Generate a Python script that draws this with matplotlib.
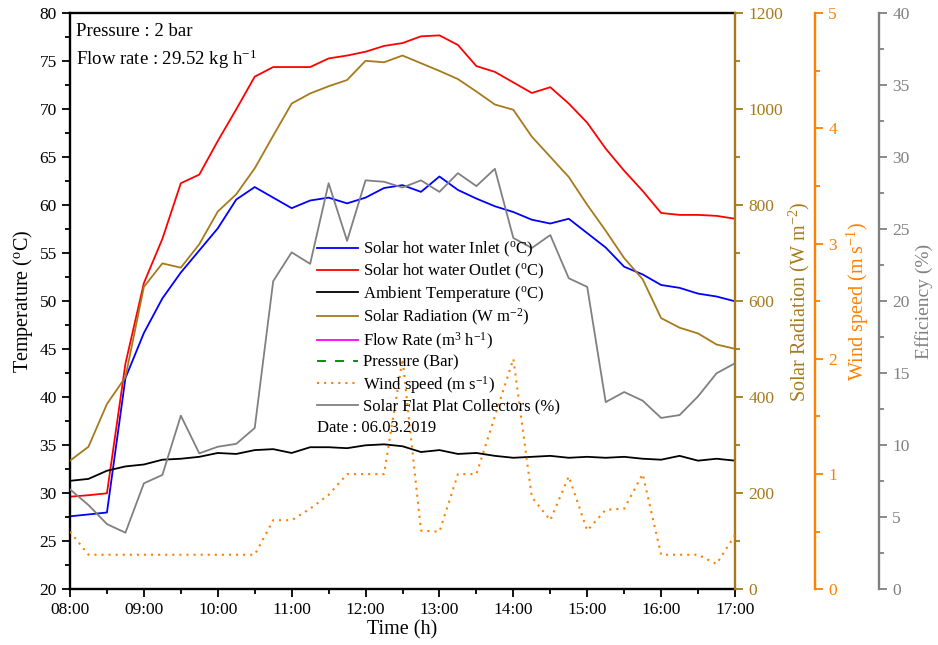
import matplotlib
matplotlib.use("Agg")
import matplotlib.pyplot as plt
from matplotlib.lines import Line2D
from matplotlib.ticker import MultipleLocator, FixedLocator

plt.rcParams['font.family'] = ['Liberation Serif', 'DejaVu Serif']
plt.rcParams['mathtext.fontset'] = 'custom'
plt.rcParams['mathtext.rm'] = 'Liberation Serif'
plt.rcParams['mathtext.it'] = 'Liberation Serif:italic'
plt.rcParams['mathtext.bf'] = 'Liberation Serif:bold'

times = ["08:00", "08:15", "08:30", "08:45", "09:00", "09:15", "09:30", "09:45",
         "10:00", "10:15", "10:30", "10:45", "11:00", "11:15", "11:30", "11:45",
         "12:00", "12:15", "12:30", "12:45", "13:00", "13:15", "13:30", "13:45",
         "14:00", "14:15", "14:30", "14:45", "15:00", "15:15", "15:30", "15:45",
         "16:00", "16:15", "16:30", "16:45", "17:00"]

inlet = [27.6, 27.8, 28.0, 42.0, 46.7, 50.3, 53.0, 55.3, 57.6, 60.6, 61.9, 60.8,
         59.7, 60.5, 60.8, 60.2, 60.8, 61.8, 62.1, 61.4, 63.0, 61.6, 60.7, 59.9,
         59.3, 58.5, 58.1, 58.6, 57.1, 55.6, 53.6, 52.8, 51.7, 51.4, 50.8, 50.5, 50.0]

outlet = [29.65, 29.8, 30.0, 43.5, 51.9, 56.5, 62.3, 63.2, 66.7, 70.0, 73.4, 74.4,
          74.4, 74.4, 75.3, 75.6, 76.0, 76.6, 76.9, 77.6, 77.7, 76.7, 74.5, 73.9,
          72.8, 71.7, 72.3, 70.6, 68.6, 65.9, 63.6, 61.5, 59.2, 59.0, 59.0, 58.9, 58.6]

ambient = [31.3, 31.5, 32.35, 32.8, 33.0, 33.5, 33.6, 33.8, 34.2, 34.1, 34.5, 34.6,
           34.2, 34.8, 34.8, 34.7, 35.0, 35.1, 34.9, 34.3, 34.5, 34.1, 34.2, 33.9,
           33.7, 33.8, 33.9, 33.7, 33.8, 33.7, 33.8, 33.6, 33.5, 33.9, 33.4, 33.6, 33.4]

radiation = [268, 297, 386, 442, 630, 679, 670, 719, 787, 823, 877, 945,
             1012, 1033, 1048, 1061, 1101, 1098, 1112, 1096, 1080, 1063, 1037, 1010,
             999, 943, 901, 859, 801, 747, 690, 646, 565, 545, 533, 510, 501]

wind = [0.5, 0.3, 0.3, 0.3, 0.3, 0.3, 0.3, 0.3, 0.3, 0.3, 0.3, 0.6,
        0.6, 0.7, 0.82, 1.0, 1.0, 1.0, 2.0, 0.51, 0.5, 1.0, 1.0, 1.5,
        2.0, 0.8, 0.6, 0.98, 0.51, 0.69, 0.7, 1.0, 0.3, 0.3, 0.3, 0.22, 0.47]

efficiency = [6.94, 5.85, 4.53, 3.93, 7.36, 7.94, 12.06, 9.44, 9.9, 10.1, 11.2, 21.4,
              23.4, 22.6, 28.2, 24.2, 28.4, 28.3, 27.9, 28.4, 27.6, 28.9, 28.0, 29.2,
              24.4, 23.7, 24.6, 21.6, 21.0, 13.0, 13.7, 13.1, 11.9, 12.1, 13.4, 15.0, 15.7]

hour_ticks = ["08:00", "09:00", "10:00", "11:00", "12:00", "13:00", "14:00",
              "15:00", "16:00", "17:00"]


def to_hours(s):
    h, m = s.split(":")
    return int(h) + int(m) / 60.0


x = [to_hours(t) for t in times]
xt = [to_hours(t) for t in hour_ticks]

GOLD = "#A67A1C"
ORANGE = "#FF8000"
GRAY = "#808080"

fig = plt.figure(figsize=(9.38, 6.45), dpi=100)
ax = fig.add_axes([70 / 938, 1 - 589.3 / 645, 665 / 938, 576 / 645])
ax2 = ax.twinx()
ax3 = ax.twinx()
ax4 = ax.twinx()

lw = 1.3
l_in, = ax.plot(x, inlet, color="#0000FF", lw=lw)
l_out, = ax.plot(x, outlet, color="#FF0000", lw=lw)
l_amb, = ax.plot(x, ambient, color="black", lw=lw)
l_rad, = ax2.plot(x, radiation, color=GOLD, lw=lw)
l_wind, = ax3.plot(x, wind, color=ORANGE, lw=1.5, linestyle=(0, (1, 2.4)))
l_eff, = ax4.plot(x, efficiency, color=GRAY, lw=lw)
l_flow = Line2D([], [], color="#FF00FF", lw=lw)
l_pres = Line2D([], [], color="#008000", lw=lw, linestyle=(0, (5, 5)))

ax.set_xlim(8, 17)
ax.set_ylim(20, 80)
ax2.set_ylim(0, 1200)
ax3.set_ylim(0, 5)
ax4.set_ylim(0, 40)

spw = 1.7
for a in (ax, ax2, ax3, ax4):
    for s in a.spines.values():
        s.set_linewidth(spw)

ax.spines['right'].set_visible(False)
for a in (ax2, ax3, ax4):
    a.spines['left'].set_visible(False)
    a.spines['top'].set_visible(False)
    a.spines['bottom'].set_visible(False)

ax2.spines['right'].set_color(GOLD)
ax3.spines['right'].set_position(('axes', (815 - 70) / 665))
ax3.spines['right'].set_color(ORANGE)
ax4.spines['right'].set_position(('axes', (879 - 70) / 665))
ax4.spines['right'].set_color(GRAY)

ax.xaxis.set_major_locator(FixedLocator(xt))
ax.set_xticklabels(hour_ticks)
ax.xaxis.set_minor_locator(MultipleLocator(0.5))
ax.yaxis.set_major_locator(MultipleLocator(5))
ax.yaxis.set_minor_locator(MultipleLocator(2.5))
ax2.yaxis.set_major_locator(MultipleLocator(200))
ax2.yaxis.set_minor_locator(MultipleLocator(100))
ax3.yaxis.set_major_locator(MultipleLocator(1))
ax3.yaxis.set_minor_locator(MultipleLocator(0.5))
ax4.yaxis.set_major_locator(MultipleLocator(5))
ax4.yaxis.set_minor_locator(MultipleLocator(2.5))

fs = 12.5
ax.tick_params(axis='both', which='major', direction='out', length=6, width=1.3,
               labelsize=fs, top=False, right=False)
ax.tick_params(axis='both', which='minor', direction='out', length=3.5, width=1.3,
               top=False, right=False)
for a, c in ((ax2, GOLD), (ax3, ORANGE), (ax4, GRAY)):
    a.tick_params(axis='y', which='major', direction='out', length=6, width=1.3,
                  labelsize=fs, colors=c)
    a.tick_params(axis='y', which='minor', direction='out', length=3.5, width=1.3,
                  colors=c)

ax.set_xlabel("Time (h)", fontsize=14.5, labelpad=1)
ax.set_ylabel("Temperature ($^{\\rm o}$C)", fontsize=14.5, labelpad=3)
ax2.set_ylabel("Solar Radiation (W m$^{-2}$)", fontsize=14.5, color=GOLD, labelpad=3)
ax3.set_ylabel("Wind speed (m s$^{-1}$)", fontsize=14.5, color=ORANGE, labelpad=6)
ax4.set_ylabel("Efficiency (%)", fontsize=14, color=GRAY, labelpad=4)

ax.text((76 - 70) / 665, (589.3 - 31.7) / 576, "Pressure : 2 bar",
        transform=ax.transAxes, fontsize=13.5, va='center', ha='left')
ax.text((76 - 70) / 665, (589.3 - 59.3) / 576, "Flow rate : 29.52 kg h$^{-1}$",
        transform=ax.transAxes, fontsize=13.5, va='center', ha='left')

handles = [l_in, l_out, l_amb, l_rad, l_flow, l_pres, l_wind, l_eff]
labels = ["Solar hot water Inlet ($^{\\rm o}$C)",
          "Solar hot water Outlet ($^{\\rm o}$C)",
          "Ambient Temperature ($^{\\rm o}$C)",
          "Solar Radiation (W m$^{-2}$)",
          "Flow Rate (m$^{3}$ h$^{-1}$)",
          "Pressure (Bar)",
          "Wind speed (m s$^{-1}$)",
          "Solar Flat Plat Collectors (%)"]
leg = ax4.legend(handles, labels, loc='upper left',
                 bbox_to_anchor=((317 - 70) / 665, (589.3 - 240) / 576),
                 frameon=False, fontsize=12, handlelength=2.45, handletextpad=0.3,
                 labelspacing=0.17, borderpad=0, borderaxespad=0)
ax4.text((317 - 70) / 665, (589.3 - 427.7) / 576, "Date : 06.03.2019",
         transform=ax4.transAxes, fontsize=12, va='center', ha='left')

fig.savefig("out.png", dpi=100)
